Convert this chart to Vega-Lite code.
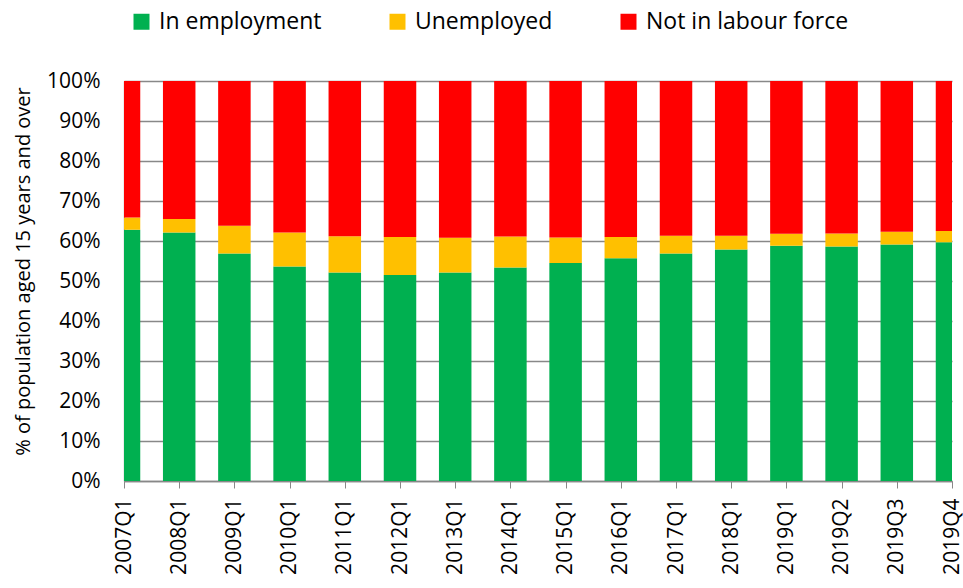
{
  "$schema": "https://vega.github.io/schema/vega-lite/v6.json",
  "width": 828,
  "height": 400,
  "autosize": "none",
  "padding": {"left": 124, "top": 81, "right": 11, "bottom": 107},
  "background": "white",
  "config": {
    "font": "Open Sans",
    "view": {"stroke": null},
    "axis": {"labelColor": "#000", "titleColor": "#000", "labelFont": "Open Sans", "titleFont": "Open Sans"}
  },
  "data": {
    "values": [
      {"quarter": "2007Q1", "In employment": 62.8, "Unemployed": 3.1, "Not in labour force": 34.1},
      {"quarter": "2008Q1", "In employment": 62.1, "Unemployed": 3.4, "Not in labour force": 34.5},
      {"quarter": "2009Q1", "In employment": 56.9, "Unemployed": 6.9, "Not in labour force": 36.2},
      {"quarter": "2010Q1", "In employment": 53.6, "Unemployed": 8.5, "Not in labour force": 37.9},
      {"quarter": "2011Q1", "In employment": 52.1, "Unemployed": 9.1, "Not in labour force": 38.8},
      {"quarter": "2012Q1", "In employment": 51.5, "Unemployed": 9.5, "Not in labour force": 39.0},
      {"quarter": "2013Q1", "In employment": 52.1, "Unemployed": 8.7, "Not in labour force": 39.2},
      {"quarter": "2014Q1", "In employment": 53.4, "Unemployed": 7.7, "Not in labour force": 38.9},
      {"quarter": "2015Q1", "In employment": 54.5, "Unemployed": 6.4, "Not in labour force": 39.1},
      {"quarter": "2016Q1", "In employment": 55.7, "Unemployed": 5.3, "Not in labour force": 39.0},
      {"quarter": "2017Q1", "In employment": 56.9, "Unemployed": 4.4, "Not in labour force": 38.7},
      {"quarter": "2018Q1", "In employment": 57.9, "Unemployed": 3.4, "Not in labour force": 38.7},
      {"quarter": "2019Q1", "In employment": 58.8, "Unemployed": 3.0, "Not in labour force": 38.2},
      {"quarter": "2019Q2", "In employment": 58.6, "Unemployed": 3.3, "Not in labour force": 38.1},
      {"quarter": "2019Q3", "In employment": 59.1, "Unemployed": 3.2, "Not in labour force": 37.7},
      {"quarter": "2019Q4", "In employment": 59.7, "Unemployed": 2.8, "Not in labour force": 37.5}
    ]
  },
  "transform": [
    {"fold": ["In employment", "Unemployed", "Not in labour force"], "as": ["status", "value"]},
    {"calculate": "indexof(['In employment', 'Unemployed', 'Not in labour force'], datum.status)", "as": "stackOrder"}
  ],
  "mark": {"type": "bar", "width": 32.5, "clip": true},
  "encoding": {
    "x": {
      "field": "quarter",
      "type": "ordinal",
      "sort": null,
      "scale": {"type": "point", "padding": 0},
      "axis": {
        "title": null,
        "labelAngle": -90,
        "labelFontSize": 21,
        "labelPadding": 10,
        "tickSize": 7,
        "tickColor": "#888888",
        "domainColor": "#888888",
        "domainWidth": 1.3,
        "grid": false,
        "labelOverlap": false
      }
    },
    "y": {
      "field": "value",
      "type": "quantitative",
      "stack": "zero",
      "scale": {"domain": [0, 100], "nice": false},
      "axis": {
        "title": "% of population aged 15 years and over",
        "titleFontSize": 20,
        "titleFontWeight": "normal",
        "titlePadding": 13,
        "titleY": 190,
        "values": [0, 10, 20, 30, 40, 50, 60, 70, 80, 90, 100],
        "labelExpr": "datum.value + '%'",
        "labelFontSize": 21,
        "labelPadding": 24,
        "ticks": false,
        "grid": true,
        "gridColor": "#888888",
        "gridWidth": 1.3,
        "domainColor": "#888888",
        "domainWidth": 1.3
      }
    },
    "color": {
      "field": "status",
      "type": "nominal",
      "sort": ["In employment", "Unemployed", "Not in labour force"],
      "scale": {
        "domain": ["In employment", "Unemployed", "Not in labour force"],
        "range": ["#00B050", "#FFC000", "#FF0000"]
      },
      "legend": {
        "title": null,
        "orient": "none",
        "direction": "horizontal",
        "legendX": 6,
        "legendY": -71,
        "symbolType": "square",
        "symbolSize": 256,
        "symbolStrokeWidth": 0,
        "labelFontSize": 23,
        "labelOffset": 6,
        "labelColor": "#000",
        "columnPadding": 64,
        "labelLimit": 400
      }
    },
    "order": {"field": "stackOrder", "type": "quantitative", "sort": "ascending"}
  }
}
